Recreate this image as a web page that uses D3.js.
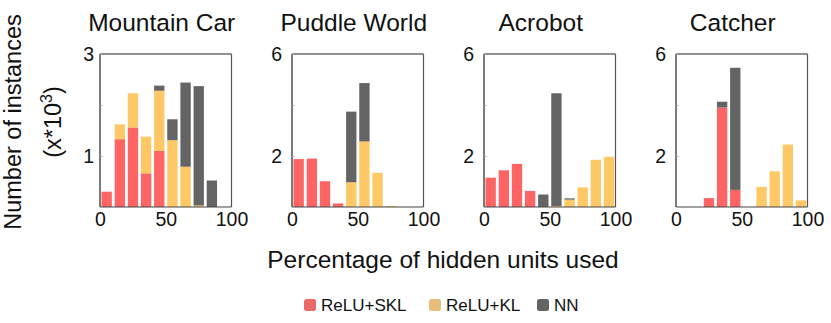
<!DOCTYPE html>
<html>
<head>
<meta charset="utf-8">
<script src="https://cdn.jsdelivr.net/npm/d3@7"></script>
<style>
  html, body { margin: 0; padding: 0; background: #fff; }
  svg { display: block; font-family: "Liberation Sans", Arial, Helvetica, sans-serif; }
</style>
</head>
<body>
<svg id="chart" width="831" height="323"></svg>
<script>
// ---------- data ----------
const categories = ["Mountain Car", "Puddle World", "Acrobot", "Catcher"];
const seriesNames = ["ReLU+SKL", "ReLU+KL", "NN"];
const bins = [0, 10, 20, 30, 40, 50, 60, 70, 80, 90];

// stacked segment heights (x 10^3) per 10% bin
const mountainSKL = [0.30, 1.33, 1.56, 0.66, 1.10, 0, 0, 0, 0, 0];
const mountainKL  = [0, 0.29, 0.67, 0.72, 1.18, 1.31, 0.79, 0.03, 0, 0];
const mountainNN  = [0, 0, 0, 0, 0.10, 0.41, 1.65, 2.34, 0.52, 0];

const puddleSKL = [1.88, 1.90, 1.01, 0.14, 0, 0, 0, 0, 0, 0];
const puddleKL  = [0, 0, 0, 0, 0.97, 2.57, 1.34, 0.04, 0, 0];
const puddleNN  = [0, 0, 0, 0, 2.77, 2.29, 0, 0, 0, 0];

const acrobotSKL = [1.15, 1.44, 1.69, 0.63, 0, 0, 0, 0, 0, 0];
const acrobotKL  = [0, 0, 0, 0, 0, 0.04, 0.29, 0.77, 1.85, 1.97];
const acrobotNN  = [0, 0, 0, 0, 0.49, 4.42, 0.05, 0, 0, 0];

const catcherSKL = [0, 0, 0.35, 3.90, 0.67, 0, 0, 0, 0, 0];
const catcherKL  = [0, 0, 0, 0, 0, 0, 0.79, 1.40, 2.45, 0.26];
const catcherNN  = [0, 0, 0, 0.23, 4.79, 0, 0, 0, 0, 0];

const yMaxes = [3, 6, 6, 6];
const yTickValues = [[0, 1, 2, 3], [0, 2, 4, 6], [0, 2, 4, 6], [0, 2, 4, 6]];
const yTickLabels = [[1, 3], [2, 6], [2, 6], [2, 6]];
const xTickValues = [0, 50, 100];

const panelData = [
  [mountainSKL, mountainKL, mountainNN],
  [puddleSKL, puddleKL, puddleNN],
  [acrobotSKL, acrobotKL, acrobotNN],
  [catcherSKL, catcherKL, catcherNN]
];

// ---------- styles / layout ----------
const barColors = ["#ff6464", "#ffc866", "#646464"];
const legendColors = ["#ea6a6a", "#e8bc7c", "#646464"];
const panelLefts = [100, 292, 484, 676];
const panelTop = 54, panelW = 131.5, panelH = 153;
const titleOffsets = [-4, -4, -9, -9];
const yLabelPad = [6, 10, 10, 10];

const svg = d3.select("#chart");
const keys = ["a", "b", "c"];

panelData.forEach((series, i) => {
  const g = svg.append("g").attr("transform", `translate(${panelLefts[i]},${panelTop})`);
  const x = d3.scaleLinear().domain([0, 100]).range([0, panelW]);
  const y = d3.scaleLinear().domain([0, yMaxes[i]]).range([panelH, 0]);

  const rows = bins.map((b, j) => ({ bin: b, a: series[0][j], b: series[1][j], c: series[2][j] }));
  const stacked = d3.stack().keys(keys)(rows);

  stacked.forEach((layer, k) => {
    g.append("g").selectAll("rect")
      .data(layer.filter(d => d[1] - d[0] > 0))
      .join("rect")
      .attr("x", d => x(d.data.bin) + 1.5)
      .attr("width", d => x(d.data.bin + 10) - x(d.data.bin) - 2.8)
      .attr("y", d => y(d[1]))
      .attr("height", d => y(d[0]) - y(d[1]))
      .attr("fill", barColors[k]);
  });

  // frame
  g.append("line").attr("x1", 0).attr("x2", panelW).attr("y1", 0).attr("y2", 0).attr("stroke", "#222").attr("stroke-width", 1.2);
  g.append("line").attr("x1", 0).attr("x2", 0).attr("y1", 0).attr("y2", panelH).attr("stroke", "#222").attr("stroke-width", 1.2);
  g.append("line").attr("x1", panelW).attr("x2", panelW).attr("y1", 0).attr("y2", panelH).attr("stroke", "#555").attr("stroke-width", 1.2);
  g.append("line").attr("x1", 0).attr("x2", panelW).attr("y1", panelH).attr("y2", panelH).attr("stroke", "#444").attr("stroke-width", 1.2);

  // y axis
  const yAxis = d3.axisLeft(y)
    .tickValues(yTickValues[i])
    .tickSize(-2.5)
    .tickPadding(yLabelPad[i])
    .tickFormat(v => yTickLabels[i].includes(v) ? String(v) : "");
  const ya = g.append("g").call(yAxis);
  ya.select(".domain").remove();
  ya.selectAll(".tick line").attr("stroke", "#aaa");
  ya.selectAll(".tick text").attr("font-size", 19.5).attr("fill", "#111").attr("font-family", null);

  // x axis
  const xAxis = d3.axisBottom(x).tickValues(xTickValues).tickSize(0).tickPadding(5).tickFormat(d3.format("d"));
  const xa = g.append("g").attr("transform", `translate(0,${panelH})`).call(xAxis);
  xa.select(".domain").remove();
  xa.selectAll(".tick text").attr("font-size", 19.5).attr("fill", "#111").attr("font-family", null);

  // title
  svg.append("text")
    .attr("x", panelLefts[i] + panelW / 2 + titleOffsets[i])
    .attr("y", 31)
    .attr("text-anchor", "middle")
    .attr("font-size", 24.5)
    .attr("fill", "#111")
    .text(categories[i]);
});

// x axis title
svg.append("text")
  .attr("x", 443).attr("y", 268)
  .attr("text-anchor", "middle")
  .attr("font-size", 24.5)
  .attr("fill", "#111")
  .text("Percentage of hidden units used");

// y axis title
svg.append("text")
  .attr("transform", "translate(21,122) rotate(-90)")
  .attr("text-anchor", "middle")
  .attr("font-size", 23.5)
  .attr("fill", "#111")
  .text("Number of instances");

const y2 = svg.append("text")
  .attr("transform", "translate(61,122) rotate(-90)")
  .attr("text-anchor", "middle")
  .attr("font-size", 23.5)
  .attr("fill", "#111");
y2.append("tspan").text("(x*10");
y2.append("tspan").attr("font-size", 16).attr("dy", -9).text("3");
y2.append("tspan").attr("dy", 9).text(")");

// legend
const legendX = [304, 429, 537];
const legend = svg.append("g");
seriesNames.forEach((name, k) => {
  legend.append("rect")
    .attr("x", legendX[k]).attr("y", 299)
    .attr("width", 12).attr("height", 12)
    .attr("rx", 2.5)
    .attr("fill", legendColors[k]);
  legend.append("text")
    .attr("x", legendX[k] + 17).attr("y", 311)
    .attr("font-size", 17)
    .attr("fill", "#111")
    .text(name);
});
</script>
</body>
</html>
